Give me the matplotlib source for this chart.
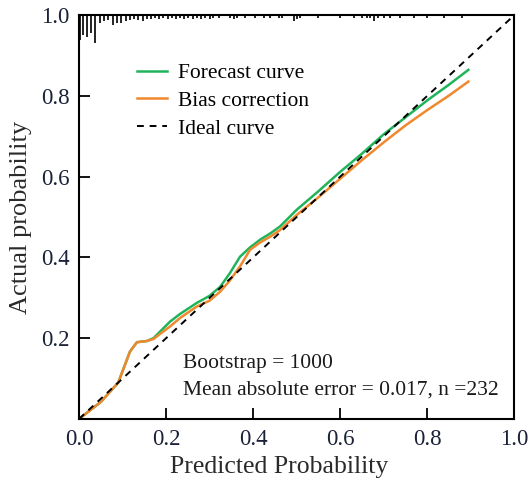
import matplotlib.pyplot as plt
import numpy as np

plt.rcParams['font.family'] = ['Liberation Serif', 'DejaVu Serif']

# calibration curves
pred_x = [0.0, 0.05, 0.09, 0.117, 0.133, 0.156, 0.171, 0.209, 0.232, 0.27, 0.30,
          0.324, 0.346, 0.37, 0.393, 0.416, 0.44, 0.462, 0.5, 0.55, 0.6, 0.65,
          0.7, 0.75, 0.8, 0.85, 0.895]
forecast_y = [0.0, 0.042, 0.09, 0.167, 0.19, 0.193, 0.2, 0.241, 0.26, 0.287, 0.305,
              0.327, 0.36, 0.402, 0.425, 0.444, 0.46, 0.477, 0.518, 0.564, 0.612, 0.657,
              0.705, 0.747, 0.789, 0.828, 0.865]
bias_y = [0.0, 0.042, 0.09, 0.167, 0.19, 0.193, 0.198, 0.229, 0.25, 0.278, 0.293,
          0.315, 0.342, 0.378, 0.419, 0.437, 0.452, 0.468, 0.505, 0.549, 0.595, 0.641,
          0.685, 0.727, 0.765, 0.801, 0.836]

# rug of predicted probabilities hanging from the top spine
rug_x = [0.002, 0.009, 0.019, 0.028, 0.037, 0.048, 0.057, 0.067, 0.077, 0.087,
         0.097, 0.107, 0.117, 0.126, 0.136, 0.146, 0.155, 0.166, 0.175, 0.184,
         0.194, 0.204, 0.213, 0.222, 0.232, 0.242, 0.251, 0.261, 0.271, 0.28,
         0.29, 0.30, 0.309, 0.321, 0.348, 0.356, 0.363, 0.382, 0.405, 0.425,
         0.44, 0.459, 0.467, 0.494, 0.501, 0.509, 0.55, 0.60, 0.631, 0.65,
         0.661, 0.669, 0.678, 0.688, 0.70, 0.715, 0.738, 0.77, 0.80, 0.84, 0.88]
rug_bottom = [0.939, 0.952, 0.947, 0.956, 0.931, 0.981, 0.985, 0.989, 0.976, 0.982,
              0.982, 0.985, 0.989, 0.99, 0.988, 0.985, 0.99, 0.992, 0.993, 0.992,
              0.993, 0.992, 0.993, 0.992, 0.993, 0.992, 0.993, 0.992, 0.993, 0.992,
              0.993, 0.992, 0.993, 0.993, 0.993, 0.992, 0.993, 0.993, 0.993, 0.993,
              0.993, 0.993, 0.993, 0.985, 0.992, 0.993, 0.993, 0.993, 0.994, 0.994,
              0.993, 0.994, 0.987, 0.993, 0.994, 0.993, 0.994, 0.994, 0.994, 0.994, 0.994]

green = '#20b45a'
orange = '#f0882e'
tick_col = '#1b2238'
label_col = '#2a2a2a'

fig = plt.figure(figsize=(5.31, 4.82), dpi=100)
ax = fig.add_axes([0.149, 0.131, 0.819, 0.837])

ax.vlines(rug_x, rug_bottom, 1.0, color='#111111', lw=1.3)
ax.plot(pred_x, forecast_y, color=green, lw=1.8, label='Forecast curve')
ax.plot(pred_x, bias_y, color=orange, lw=1.8, label='Bias correction')
ax.plot([0, 1], [0, 1], color='black', ls=(0, (3.5, 3)), lw=1.4, label='Ideal curve')

ax.set_xlim(0, 1)
ax.set_ylim(0, 1)
ax.set_xticks([0, 0.2, 0.4, 0.6, 0.8, 1.0])
ax.set_yticks([0.2, 0.4, 0.6, 0.8, 1.0])
ax.tick_params(direction='in', length=8, width=1.3, labelsize=16.5,
               labelcolor=tick_col, pad=7)
for s in ax.spines.values():
    s.set_linewidth(1.5)

ax.set_xlabel('Predicted Probability', fontsize=18.5, color=label_col)
ax.xaxis.set_label_coords(0.46, -0.092)
ax.set_ylabel('Actual probability', fontsize=19, color=label_col, labelpad=6)

ax.legend(loc='upper left', bbox_to_anchor=(0.088, 0.93), frameon=False,
          fontsize=15.5, handlelength=1.4, handletextpad=0.5, labelspacing=0.36)

ax.text(0.239, 0.136, 'Bootstrap = 1000', fontsize=15.5, color='#1a1a1a', va='center')
ax.text(0.239, 0.072, 'Mean absolute error = 0.017, n =232', fontsize=15.5,
        color='#1a1a1a', va='center')

fig.savefig('out.png', dpi=100)
